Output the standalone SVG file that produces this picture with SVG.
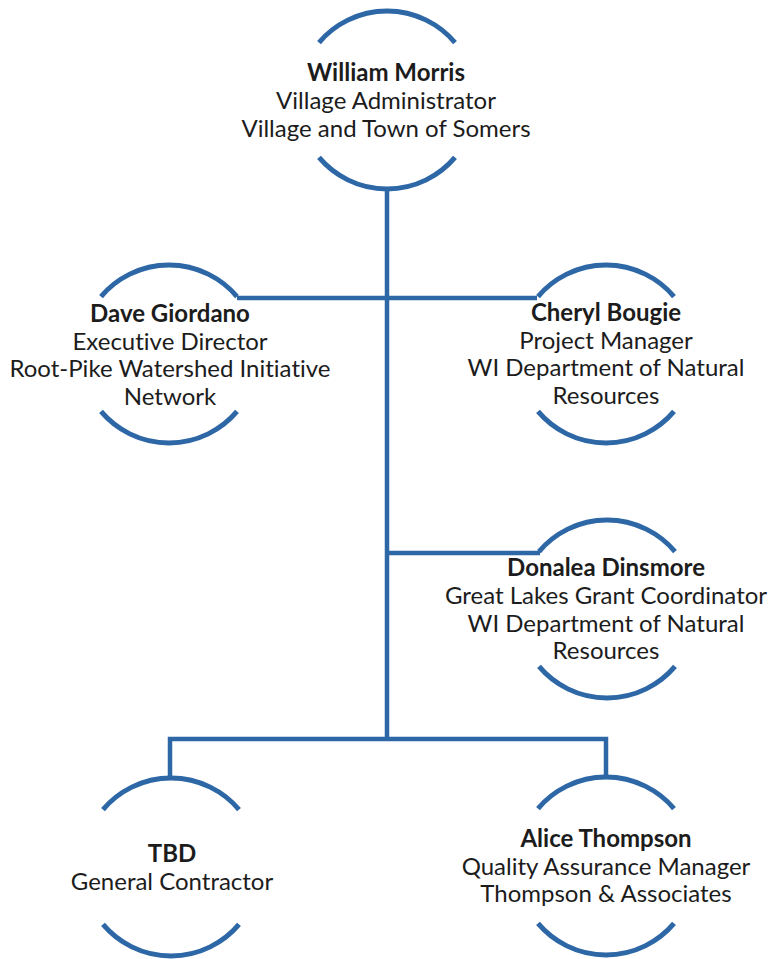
<svg xmlns="http://www.w3.org/2000/svg" xmlns:xlink="http://www.w3.org/1999/xlink" width="770" height="959" viewBox="0 0 770 959">
<style>
  .arc { fill: none; stroke: #2d67a6; stroke-width: 5; stroke-linecap: butt; }
  .conn { fill: none; stroke: #2d67a6; stroke-width: 4.5; stroke-linejoin: miter; }
  text { font-family: Lato, "Liberation Sans", sans-serif; font-size: 24px; fill: #1c1c1c; text-anchor: middle; font-variant-ligatures: none; }
  .name { font-weight: bold; }
</style>
<defs>
  <g id="ring">
    <path class="arc" d="M -68 -57.4 A 89 89 0 0 1 68 -57.4"/>
    <path class="arc" d="M -68 57.4 A 89 89 0 0 0 68 57.4"/>
  </g>
</defs>
<rect width="770" height="959" fill="#ffffff"/>
<g id="connectors">
  <path class="conn" d="M 387 189 V 739"/>
  <path class="conn" d="M 237 298 H 537"/>
  <path class="conn" d="M 387 553 H 540"/>
  <path class="conn" d="M 170 778 V 739 H 606 V 777"/>
</g>
<g id="william-morris">
  <use xlink:href="#ring" x="387" y="100"/>
  <text x="386" y="81" class="name">William Morris</text>
  <text x="386" y="109">Village Administrator</text>
  <text x="386" y="137">Village and Town of Somers</text>
</g>
<g id="dave-giordano">
  <use xlink:href="#ring" x="169" y="354"/>
  <text x="170" y="322" class="name">Dave Giordano</text>
  <text x="170" y="350">Executive Director</text>
  <text x="170" y="377">Root-Pike Watershed Initiative</text>
  <text x="170" y="405">Network</text>
</g>
<g id="cheryl-bougie">
  <use xlink:href="#ring" x="606" y="354"/>
  <text x="606" y="321" class="name">Cheryl Bougie</text>
  <text x="606" y="349">Project Manager</text>
  <text x="606" y="376">WI Department of Natural</text>
  <text x="606" y="404">Resources</text>
</g>
<g id="donalea-dinsmore">
  <use xlink:href="#ring" x="607" y="609"/>
  <text x="606" y="576" class="name">Donalea Dinsmore</text>
  <text x="606" y="604">Great Lakes Grant Coordinator</text>
  <text x="606" y="632">WI Department of Natural</text>
  <text x="606" y="659">Resources</text>
</g>
<g id="tbd">
  <use xlink:href="#ring" x="171" y="867"/>
  <text x="172" y="862" class="name">TBD</text>
  <text x="172" y="890">General Contractor</text>
</g>
<g id="alice-thompson">
  <use xlink:href="#ring" x="606" y="866"/>
  <text x="606" y="847" class="name">Alice Thompson</text>
  <text x="606" y="875">Quality Assurance Manager</text>
  <text x="606" y="902">Thompson &amp; Associates</text>
</g>
</svg>
